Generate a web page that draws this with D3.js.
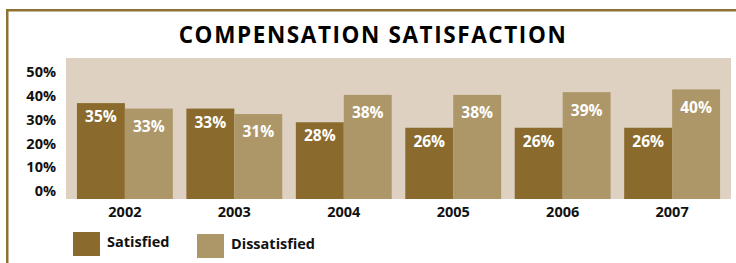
<!DOCTYPE html>
<html>
<head>
<meta charset="utf-8">
<script src="https://cdn.jsdelivr.net/npm/d3@7"></script>
<style>
  html, body { margin: 0; padding: 0; background: #ffffff; }
  svg { display: block; }
  text { font-family: "Open Sans", "Liberation Sans", Arial, sans-serif; font-weight: bold; }
</style>
</head>
<body>
<svg id="chart" width="736" height="263"></svg>
<script>
const years = ["2002", "2003", "2004", "2005", "2006", "2007"];
const satisfied = [35, 33, 28, 26, 26, 26];
const dissatisfied = [33, 31, 38, 38, 39, 40];
const seriesNames = ["Satisfied", "Dissatisfied"];
const seriesColors = ["#8a6b2d", "#ad9769"];
const tickValues = [0, 10, 20, 30, 40, 50];
const tickLabels = ["0%", "10%", "20%", "30%", "40%", "50%"];

const FONT = "'Open Sans', 'Liberation Sans', Arial, sans-serif";
const svg = d3.select("#chart");
const W = 736, H = 263;

// frame
svg.append("rect").attr("x", 6).attr("y", 9).attr("width", 2.5).attr("height", H - 9).attr("fill", "#8d7233");
svg.append("rect").attr("x", 6).attr("y", 9).attr("width", W - 6).attr("height", 2.5).attr("fill", "#8d7233");

// title
svg.append("text")
  .attr("x", 373).attr("y", 42.5)
  .attr("text-anchor", "middle")
  .attr("font-size", 22.5)
  .attr("letter-spacing", 1.6)
  .attr("fill", "#000")
  .text("COMPENSATION SATISFACTION");

const plot = { left: 66, right: 731, top: 58, bottom: 199 };

svg.append("rect")
  .attr("x", plot.left).attr("y", plot.top)
  .attr("width", plot.right - plot.left).attr("height", plot.bottom - plot.top)
  .attr("fill", "#ded1c1");

const x0 = d3.scaleBand().domain(years).range([plot.left, plot.right]).paddingInner(0.124).paddingOuter(0.1);
const x1 = d3.scaleBand().domain(seriesNames).range([0, x0.bandwidth()]).padding(0);
const y = d3.scaleLinear().domain([0, 50]).range([plot.bottom, plot.bottom - 137]);

// tick label positions (labels are evenly spaced, separate from bar scale)
const yLab = d3.scaleLinear().domain([0, 50]).range([191, 72]);
const yAxis = d3.axisLeft(yLab).tickValues(tickValues).tickFormat((d, i) => tickLabels[i]).tickSize(0).tickPadding(0);
const gy = svg.append("g").attr("transform", "translate(56,0)").call(yAxis);
gy.select(".domain").remove();
gy.selectAll("text").attr("font-size", 14.5).attr("fill", "#111").attr("font-family", FONT).attr("font-weight", "bold");

const xAxis = d3.axisBottom(x0).tickSize(0).tickPadding(0);
const gx = svg.append("g").attr("transform", "translate(0,207)").call(xAxis);
gx.select(".domain").remove();
gx.selectAll("text").attr("font-size", 14.5).attr("fill", "#111").attr("font-family", FONT).attr("font-weight", "bold");

const rows = years.map((yr, i) => ({ year: yr, values: [satisfied[i], dissatisfied[i]] }));
const labelOffsets = [13.5, 18];

const groups = svg.append("g").selectAll("g").data(rows).join("g")
  .attr("transform", d => `translate(${x0(d.year)},0)`);

groups.selectAll("rect").data(d => d.values.map((v, j) => ({ v, j }))).join("rect")
  .attr("x", d => x1(seriesNames[d.j]))
  .attr("y", d => y(d.v))
  .attr("width", x1.bandwidth())
  .attr("height", d => y(0) - y(d.v))
  .attr("fill", d => seriesColors[d.j]);

groups.selectAll("text").data(d => d.values.map((v, j) => ({ v, j }))).join("text")
  .attr("x", d => x1(seriesNames[d.j]) + x1.bandwidth() / 2)
  .attr("y", d => y(d.v) + labelOffsets[d.j])
  .attr("dy", "0.35em")
  .attr("text-anchor", "middle")
  .attr("font-size", 15.5)
  .attr("fill", "#ffffff")
  .text(d => d.v + "%");

// legend
const legendItems = [
  { name: seriesNames[0], color: seriesColors[0], x: 73, y: 232 },
  { name: seriesNames[1], color: seriesColors[1], x: 197, y: 234 }
];
const lg = svg.append("g").selectAll("g").data(legendItems).join("g")
  .attr("transform", d => `translate(${d.x},${d.y})`);
lg.append("rect").attr("width", 27).attr("height", 24).attr("fill", d => d.color);
lg.append("text").attr("x", 34).attr("y", 10).attr("dy", "0.35em")
  .attr("font-size", 14.5).attr("fill", "#111").text(d => d.name);
</script>
</body>
</html>
